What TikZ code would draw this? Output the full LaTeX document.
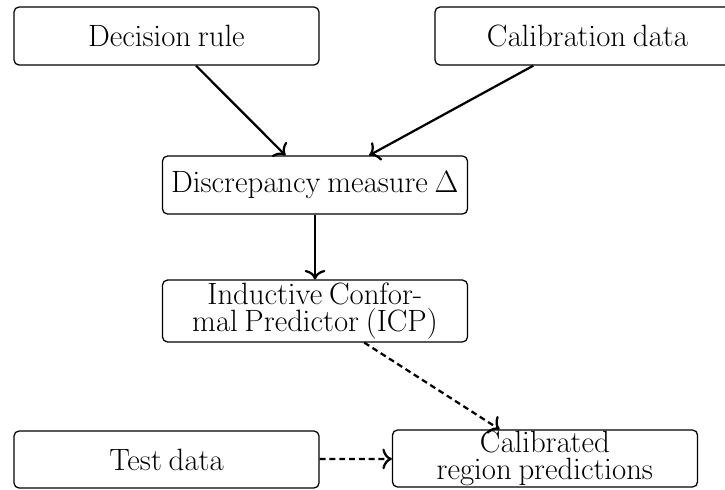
\documentclass[tikz,border=0pt]{standalone}
\usetikzlibrary{arrows.meta}
\font\lightrm=cmr17 at 11pt
\begin{document}
\begin{tikzpicture}[x=0.357pt,y=-0.357pt,
  box/.style={draw, line width=0.45pt, rounded corners=1.8pt, inner sep=0pt,
    minimum width=108.9pt, align=center,
    font={\lightrm\baselineskip=9.5pt\spaceskip=0.24em plus 0.1em minus 0.05em\relax}},
  conn/.style={line width=0.8pt, -{To[length=3.4pt,width=7.4pt]}},
  dconn/.style={conn, dash pattern=on 2.1pt off 1.4pt}]
\useasboundingbox (0,0) rectangle (725,489);
\node[box, minimum height=20.7pt] (dr) at (166.5,36) {Decision rule};
\node[box, minimum height=20.7pt] (cal) at (587.5,36) {Calibration data};
\node[box, minimum height=20.7pt] (dm) at (315,185) {Discrepancy measure \char1};
\node[box, minimum height=22.1pt] (icp) at (315,311) {Inductive Confor-\\mal Predictor (ICP)};
\node[box, minimum height=20.35pt] (td) at (166.5,459.5) {Test data};
\node[box, minimum height=20.35pt] (crp) at (545,458.5) {Calibrated\\region predictions};
\draw[conn] (dr) -- (dm);
\draw[conn] (cal) -- (dm);
\draw[conn] (dm) -- (icp);
\draw[dconn] (icp) -- (crp);
\draw[dconn] (td) -- (crp);
\end{tikzpicture}
\end{document}
